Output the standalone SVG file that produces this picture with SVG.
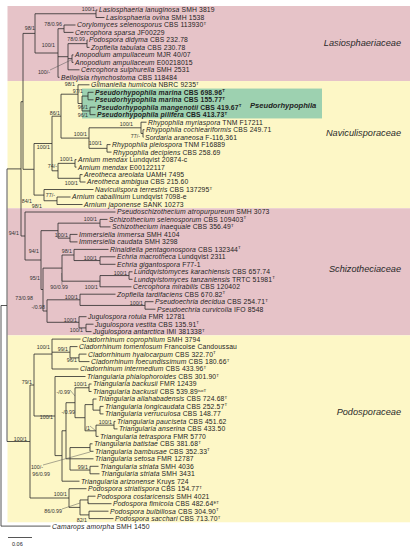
<svg xmlns="http://www.w3.org/2000/svg" width="415" height="550" viewBox="0 0 415 550">
<style>
text{font-family:"Liberation Sans",Arial,sans-serif;fill:#1e1e1e}
.tp{font-size:6.8px;letter-spacing:0.14px}
.i{font-style:italic}
.b{font-weight:bold}
.sup{font-size:4.4px;letter-spacing:0}
.s{font-size:5.3px;text-anchor:end;fill:#333}
.fam{font-size:9.2px;font-style:italic;text-anchor:end;fill:#2a2a2a}
.br{fill:none;stroke:#2b2b2b;stroke-width:0.8}
.ld{fill:none;stroke:#555;stroke-width:0.5}
</style>
<rect width="415" height="550" fill="#fff"/>
<g id="bands">
<rect x="7.5" y="6" width="402.5" height="75.05" fill="#e6c3c8"/>
<rect x="7.5" y="81.05" width="402.5" height="127.2" fill="#fdf7c6"/>
<rect x="7.5" y="208.25" width="402.5" height="127.1" fill="#e6c3c8"/>
<rect x="7.5" y="335.35" width="402.5" height="186.95" fill="#fdf7c6"/>
<rect x="82" y="88.55" width="240" height="29.9" fill="#9dd1b0"/>
</g>
<g id="families">
<text class="fam" x="401" y="46">Lasiosphaeriaceae</text>
<text class="fam" x="401" y="136">Naviculisporaceae</text>
<text class="fam" x="401" y="272">Schizotheciaceae</text>
<text class="fam" x="401" y="415">Podosporaceae</text>
<text x="250" y="108" style="font-size:7.6px;font-weight:bold;font-style:italic">Pseudorhypophila</text>
</g>
<g id="connectors">
<path class="br" d="M1 305.5H7M1 305.5V526.1M1 526.1H50.5M7 168.9V441.5
M7 168.9H21M21 101.7V236M21 101.7H23M23 33.4V169.3
M23 33.4H35M35 13.75V53M35 13.75H96M96 10V17.5M96 10H97.5M96 17.5H104.5
M35 53H58M58 28.7V77.3M58 77.3H59.5M58 28.7H64M64 25V32.4M64 25H75.5M64 32.4H73.5
M58 56.7H68M68 43.65V69.8M68 69.8H79.5M68 43.65H87M87 39.9V47.4M87 39.9H87.5M87 47.4H89.5
M68 58.65H72M72 54.9V62.4M72 54.9H73.5M72 62.4H73.5
M23 169.3H34M34 143.5V195.1M34 143.5H52M52 116.2V170.8M52 116.2H61M61 94.2V138.1
M61 94.2H78M78 84.8V103.5M78 84.8H89.5M78 103.5H82M82 96.05V110.95
M82 96.05H88M88 92.3V99.8M88 92.3H93.5M88 99.8H93.5
M82 110.95H90M90 107.2V114.7M90 107.2H95.5M90 114.7H95.5
M61 138.1H89M89 127.8V148.35M89 127.8H141M141 122.2V133.45M141 122.2H146.5M141 133.45H143M143 129.7V137.2M143 129.7H144.5M143 137.2H143.5
M89 148.35H107M107 144.6V152.1M107 144.6H110.5M107 152.1H111.5
M52 170.8H58M58 163.35V178.3M58 163.35H75M75 159.6V167.1M75 159.6H76.5M75 167.1H76.5
M58 178.3H80M80 174.6V182M80 174.6H82.5M80 182H85.5
M34 195.1H44M44 189.5V200.75M44 189.5H93.5M44 200.75H57M57 197V204.5M57 197H70.5M57 204.5H82.5
M21 236H25M25 212V260M25 212H115.5
M25 260H41M41 230.65V289.5M41 230.65H58M58 223.15V238.15M58 223.15H100M100 219.4V226.9M100 219.4H107.5M100 226.9H110.5
M58 238.15H70M70 234.4V241.9M70 234.4H77.5M70 241.9H77.5
M41 289.5H43M43 268.1V311M43 268.1H62M62 255V281.2M62 255H74M74 249.4V260.55M74 249.4H108.5M74 260.55H100M100 256.8V264.3M100 256.8H115.5M100 264.3H115.5
M62 281.2H100M100 275.55V286.8M100 286.8H131.5M100 275.55H129M129 271.8V279.3M129 271.8H132.5M129 279.3H132.5
M43 311H47M47 299.8V322.3M47 299.8H80M80 294.2V305.45M80 294.2H115.5M80 305.45H145M145 301.7V309.2M145 301.7H153.5M145 309.2H155.5
M47 322.3H79M79 316.7V327.9M79 316.7H86.5M79 327.9H86M86 324.2V331.6M86 324.2H93.5M86 331.6H91.5
M7 441.5H30M30 385V498M30 385H34M34 354.05V416
M34 354.05H52M52 339.1V369M52 339.1H80.5M52 369H78.5M52 352.2H70M70 346.6V357.85M70 346.6H77.5M70 357.85H79M79 354.1V361.6M79 354.1H86.5M79 361.6H89.5
M34 416H55M55 376.5V455.6M55 376.5H85.5M55 455.6H62M62 430.75V481.2M62 481.2H79.5M62 430.75H66M66 402.7V458.8
M66 402.7H75M75 387.75V417.7M75 387.75H89M89 384V391.5M89 384H91.5M89 391.5H91.5
M75 417.7H85M85 404.6V430.8M85 404.6H93M93 399V410.15M93 399H96.5M93 410.15H100M100 406.4V413.9M100 406.4H103.5M100 413.9H103.5
M85 430.8H96M96 425.15V436.4M96 436.4H98.5M96 425.15H114M114 421.4V428.9M114 421.4H115.5M114 428.9H117.5
M66 458.8H70M70 447.55V470.05M70 458.8H93.5M70 447.55H90M90 443.8V451.3M90 443.8H92.5M90 451.3H93.5M70 470.05H90M90 466.3V473.8M90 466.3H98.5M90 473.8H99.5
M30 498H69M69 488.7V507.4M69 488.7H86.5M69 507.4H80M80 499.95V514.9M80 499.95H88M88 496.2V503.7M88 496.2H95.5M88 503.7H111.5M80 514.9H89M89 511.2V518.6M89 511.2H108.5M89 518.6H113.5"/>
<path class="ld" d="M50 70L71 60M62 285L61.5 273M70 390L75 396M90 426L96 431M43 465L90 452M62 509L80 503"/>
<path class="br" d="M8 537.5H32"/>
</g>
<g id="supports">
<text class="s" x="95" y="11">100/1</text>
<text class="s" x="35" y="30">98/1</text>
<text class="s" x="62" y="26">78/0.96</text>
<text class="s" x="55" y="47">100/1</text>
<text class="s" x="85" y="41">78/0.99</text>
<text class="s" x="50" y="74">100/-</text>
<text class="s" x="75" y="86">98/1</text>
<text class="s" x="83" y="93">97/1</text>
<text class="s" x="88" y="109">96/1</text>
<text class="s" x="60" y="115">86/1</text>
<text class="s" x="88" y="117">96/1</text>
<text class="s" x="133" y="126">100/1</text>
<text class="s" x="87" y="136">100/1</text>
<text class="s" x="140" y="138">77/-</text>
<text class="s" x="102" y="145">100/1</text>
<text class="s" x="50" y="149">100/1</text>
<text class="s" x="73" y="161">100/1</text>
<text class="s" x="57" y="168">74/-</text>
<text class="s" x="78" y="185">100/1</text>
<text class="s" x="55" y="197">77/-</text>
<text class="s" x="32" y="203">84/1</text>
<text class="s" x="42" y="208">98/1</text>
<text class="s" x="97" y="221">100/1</text>
<text class="s" x="19" y="235">94/1</text>
<text class="s" x="68" y="237">100/1</text>
<text class="s" x="39" y="253">94/1</text>
<text class="s" x="72" y="253">98/1</text>
<text class="s" x="97" y="260">100/1</text>
<text class="s" x="127" y="275">100/1</text>
<text class="s" x="40" y="280">95/1</text>
<text class="s" x="68" y="289">90/0.99</text>
<text class="s" x="98" y="289">100/1</text>
<text class="s" x="33" y="300">73/0.98</text>
<text class="s" x="78" y="299">100/1</text>
<text class="s" x="143" y="305">100/1</text>
<text class="s" x="45" y="309">-/0.98</text>
<text class="s" x="77" y="322">100/1</text>
<text class="s" x="83" y="332">100/1</text>
<text class="s" x="50" y="349">100/1</text>
<text class="s" x="68" y="351">99/1</text>
<text class="s" x="77" y="362">96/1</text>
<text class="s" x="32" y="384">79/1</text>
<text class="s" x="87" y="386">100/1</text>
<text class="s" x="70" y="394">-/0.99</text>
<text class="s" x="75" y="414">-/0.99</text>
<text class="s" x="53" y="419">100/1</text>
<text class="s" x="112" y="424">100/1</text>
<text class="s" x="90" y="430">/1</text>
<text class="s" x="27" y="441">100/1</text>
<text class="s" x="43" y="469">100/-</text>
<text class="s" x="88" y="469">99/1</text>
<text class="s" x="50" y="476">96/0.99</text>
<text class="s" x="67" y="496">100/1</text>
<text class="s" x="89" y="504">-</text>
<text class="s" x="62" y="513">86/0.99</text>
<text class="s" x="87" y="522">82/1</text>
<text x="12" y="546" style="font-size:5.5px">0.06</text>
</g>
<g id="taxa">
<g id="t1"><text class="tp" x="99" y="12.4"><tspan class="i">Lasiosphaeria lanuginosa</tspan> SMH 3819</text></g>
<g id="t2"><text class="tp" x="106" y="19.9"><tspan class="i">Lasiosphaeria ovina</tspan> SMH 1538</text></g>
<g id="t3"><text class="tp" x="77" y="27.4"><tspan class="i">Corylomyces selenosporus</tspan> CBS 113930<tspan class="sup" dy="-2.4">T</tspan></text></g>
<g id="t4"><text class="tp" x="75" y="34.8"><tspan class="i">Cercophora sparsa</tspan> JF00229</text></g>
<g id="t5"><text class="tp" x="89" y="42.3"><tspan class="i">Podospora didyma</tspan> CBS 232.78</text></g>
<g id="t6"><text class="tp" x="91" y="49.8"><tspan class="i">Zopfiella tabulata</tspan> CBS 230.78</text></g>
<g id="t7"><text class="tp" x="75" y="57.3"><tspan class="i">Anopodium ampullaceum</tspan> MJR 40/07</text></g>
<g id="t8"><text class="tp" x="75" y="64.8"><tspan class="i">Anopodium ampullaceum</tspan> E00218015</text></g>
<g id="t9"><text class="tp" x="81" y="72.2"><tspan class="i">Cercophora sulphurella</tspan> SMH 2531</text></g>
<g id="t10"><text class="tp" x="61" y="79.7"><tspan class="i">Bellojisia rhynchostoma</tspan> CBS 118484</text></g>
<g id="t11"><text class="tp" x="91" y="87.2"><tspan class="i">Gilmaniella humicola</tspan> NBRC 9235<tspan class="sup" dy="-2.4">T</tspan></text></g>
<g id="t12"><text class="tp b" x="95" y="94.7"><tspan class="i">Pseudorhypophila marina</tspan> CBS 698.96<tspan class="sup" dy="-2.4">T</tspan></text></g>
<g id="t13"><text class="tp b" x="95" y="102.2"><tspan class="i">Pseudorhypophila marina</tspan> CBS 155.77<tspan class="sup" dy="-2.4">T</tspan></text></g>
<g id="t14"><text class="tp b" x="97" y="109.6"><tspan class="i">Pseudorhypophila mangenotii</tspan> CBS 419.67<tspan class="sup" dy="-2.4">T</tspan></text></g>
<g id="t15"><text class="tp b" x="97" y="117.1"><tspan class="i">Pseudorhypophila pilifera</tspan> CBS 413.73<tspan class="sup" dy="-2.4">T</tspan></text></g>
<g id="t16"><text class="tp" x="148" y="124.6"><tspan class="i">Rhypophila myriaspora</tspan> TNM F17211</text></g>
<g id="t17"><text class="tp" x="146" y="132.1"><tspan class="i">Rhypophila cochleariformis</tspan> CBS 249.71</text></g>
<g id="t18"><text class="tp" x="145" y="139.6"><tspan class="i">Sordaria araneosa</tspan> F-116,361</text></g>
<g id="t19"><text class="tp" x="112" y="147"><tspan class="i">Rhypophila pleiospora</tspan> TNM F16889</text></g>
<g id="t20"><text class="tp" x="113" y="154.5"><tspan class="i">Rhypophila decipiens</tspan> CBS 258.69</text></g>
<g id="t21"><text class="tp" x="78" y="162"><tspan class="i">Arnium mendax</tspan> Lundqvist 20874-c</text></g>
<g id="t22"><text class="tp" x="78" y="169.5"><tspan class="i">Arnium mendax</tspan> E00122117</text></g>
<g id="t23"><text class="tp" x="84" y="177"><tspan class="i">Areotheca areolata</tspan> UAMH 7495</text></g>
<g id="t24"><text class="tp" x="87" y="184.4"><tspan class="i">Areotheca ambigua</tspan> CBS 215.60</text></g>
<g id="t25"><text class="tp" x="95" y="191.9"><tspan class="i">Naviculispora terrestris</tspan> CBS 137295<tspan class="sup" dy="-2.4">T</tspan></text></g>
<g id="t26"><text class="tp" x="72" y="199.4"><tspan class="i">Arnium caballinum</tspan> Lundqvist 7098-e</text></g>
<g id="t27"><text class="tp" x="84" y="206.9"><tspan class="i">Arnium japonense</tspan> SANK 10273</text></g>
<g id="t28"><text class="tp" x="117" y="214.4"><tspan class="i">Pseudoschizothecium atropurpureum</tspan> SMH 3073</text></g>
<g id="t29"><text class="tp" x="109" y="221.8"><tspan class="i">Schizothecium selenosporum</tspan> CBS 109403<tspan class="sup" dy="-2.4">T</tspan></text></g>
<g id="t30"><text class="tp" x="112" y="229.3"><tspan class="i">Schizothecium inaequale</tspan> CBS 356.49<tspan class="sup" dy="-2.4">T</tspan></text></g>
<g id="t31"><text class="tp" x="79" y="236.8"><tspan class="i">Immersiella immersa</tspan> SMH 4104</text></g>
<g id="t32"><text class="tp" x="79" y="244.3"><tspan class="i">Immersiella caudata</tspan> SMH 3298</text></g>
<g id="t33"><text class="tp" x="110" y="251.8"><tspan class="i">Rinaldiella pentagonospora</tspan> CBS 132344<tspan class="sup" dy="-2.4">T</tspan></text></g>
<g id="t34"><text class="tp" x="117" y="259.2"><tspan class="i">Echria macrotheca</tspan> Lundqvist 2311</text></g>
<g id="t35"><text class="tp" x="117" y="266.7"><tspan class="i">Echria gigantospora</tspan> F77-1</text></g>
<g id="t36"><text class="tp" x="134" y="274.2"><tspan class="i">Lundqvistomyces karachiensis</tspan> CBS 657.74</text></g>
<g id="t37"><text class="tp" x="134" y="281.7"><tspan class="i">Lundqvistomyces tanzaniensis</tspan> TRTC 51981<tspan class="sup" dy="-2.4">T</tspan></text></g>
<g id="t38"><text class="tp" x="133" y="289.2"><tspan class="i">Cercophora mirabilis</tspan> CBS 120402</text></g>
<g id="t39"><text class="tp" x="117" y="296.6"><tspan class="i">Zopfiella tardifaciens</tspan> CBS 670.82<tspan class="sup" dy="-2.4">T</tspan></text></g>
<g id="t40"><text class="tp" x="155" y="304.1"><tspan class="i">Pseudoechria decidua</tspan> CBS 254.71<tspan class="sup" dy="-2.4">T</tspan></text></g>
<g id="t41"><text class="tp" x="157" y="311.6"><tspan class="i">Pseudoechria curvicolla</tspan> IFO 8548</text></g>
<g id="t42"><text class="tp" x="88" y="319.1"><tspan class="i">Jugulospora rotula</tspan> FMR 12781</text></g>
<g id="t43"><text class="tp" x="95" y="326.6"><tspan class="i">Jugulospora vestita</tspan> CBS 135.91<tspan class="sup" dy="-2.4">T</tspan></text></g>
<g id="t44"><text class="tp" x="93" y="334"><tspan class="i">Jugulospora antarctica</tspan> IMI 381338<tspan class="sup" dy="-2.4">T</tspan></text></g>
<g id="t45"><text class="tp" x="82" y="341.5"><tspan class="i">Cladorrhinum coprophilum</tspan> SMH 3794</text></g>
<g id="t46"><text class="tp" x="79" y="349"><tspan class="i">Cladorrhinum tomentosum</tspan> Francoise Candoussau</text></g>
<g id="t47"><text class="tp" x="88" y="356.5"><tspan class="i">Cladorrhinum hyalocarpum</tspan> CBS 322.70<tspan class="sup" dy="-2.4">T</tspan></text></g>
<g id="t48"><text class="tp" x="91" y="364"><tspan class="i">Cladorrhinum foecundissimum</tspan> CBS 180.66<tspan class="sup" dy="-2.4">T</tspan></text></g>
<g id="t49"><text class="tp" x="80" y="371.4"><tspan class="i">Cladorrhinum intermedium</tspan> CBS 433.96<tspan class="sup" dy="-2.4">T</tspan></text></g>
<g id="t50"><text class="tp" x="87" y="378.9"><tspan class="i">Triangularia phialophoroides</tspan> CBS 301.90<tspan class="sup" dy="-2.4">T</tspan></text></g>
<g id="t51"><text class="tp" x="93" y="386.4"><tspan class="i">Triangularia backusii</tspan> FMR 12439</text></g>
<g id="t52"><text class="tp" x="93" y="393.9"><tspan class="i">Triangularia backusii</tspan> CBS 539.89<tspan class="sup" dy="-2.4">isoT</tspan></text></g>
<g id="t53"><text class="tp" x="98" y="401.4"><tspan class="i">Triangularia allahabadensis</tspan> CBS 724.68<tspan class="sup" dy="-2.4">T</tspan></text></g>
<g id="t54"><text class="tp" x="105" y="408.8"><tspan class="i">Triangularia longicaudata</tspan> CBS 252.57<tspan class="sup" dy="-2.4">T</tspan></text></g>
<g id="t55"><text class="tp" x="105" y="416.3"><tspan class="i">Triangularia verruculosa</tspan> CBS 148.77</text></g>
<g id="t56"><text class="tp" x="117" y="423.8"><tspan class="i">Triangularia pauciseta</tspan> CBS 451.62</text></g>
<g id="t57"><text class="tp" x="119" y="431.3"><tspan class="i">Triangularia anserina</tspan> CBS 433.50</text></g>
<g id="t58"><text class="tp" x="100" y="438.8"><tspan class="i">Triangularia tetraspora</tspan> FMR 5770</text></g>
<g id="t59"><text class="tp" x="94" y="446.2"><tspan class="i">Triangularia batistae</tspan> CBS 381.68<tspan class="sup" dy="-2.4">T</tspan></text></g>
<g id="t60"><text class="tp" x="95" y="453.7"><tspan class="i">Triangularia bambusae</tspan> CBS 352.33<tspan class="sup" dy="-2.4">T</tspan></text></g>
<g id="t61"><text class="tp" x="95" y="461.2"><tspan class="i">Triangularia setosa</tspan> FMR 12787</text></g>
<g id="t62"><text class="tp" x="100" y="468.7"><tspan class="i">Triangularia striata</tspan> SMH 4036</text></g>
<g id="t63"><text class="tp" x="101" y="476.2"><tspan class="i">Triangularia striata</tspan> SMH 3431</text></g>
<g id="t64"><text class="tp" x="81" y="483.6"><tspan class="i">Triangularia arizonense</tspan> Kruys 724</text></g>
<g id="t65"><text class="tp" x="88" y="491.1"><tspan class="i">Podospora striatispora</tspan> CBS 154.77<tspan class="sup" dy="-2.4">T</tspan></text></g>
<g id="t66"><text class="tp" x="97" y="498.6"><tspan class="i">Podospora costaricensis</tspan> SMH 4021</text></g>
<g id="t67"><text class="tp" x="113" y="506.1"><tspan class="i">Podospora fimicola</tspan> CBS 482.64<tspan class="sup" dy="-2.4">ET</tspan></text></g>
<g id="t68"><text class="tp" x="110" y="513.6"><tspan class="i">Podospora bulbillosa</tspan> CBS 304.90<tspan class="sup" dy="-2.4">T</tspan></text></g>
<g id="t69"><text class="tp" x="115" y="521"><tspan class="i">Podospora sacchari</tspan> CBS 713.70<tspan class="sup" dy="-2.4">T</tspan></text></g>
<g id="t70"><text class="tp" x="52" y="528.5"><tspan class="i">Camarops amorpha</tspan> SMH 1450</text></g>
</g>
</svg>
